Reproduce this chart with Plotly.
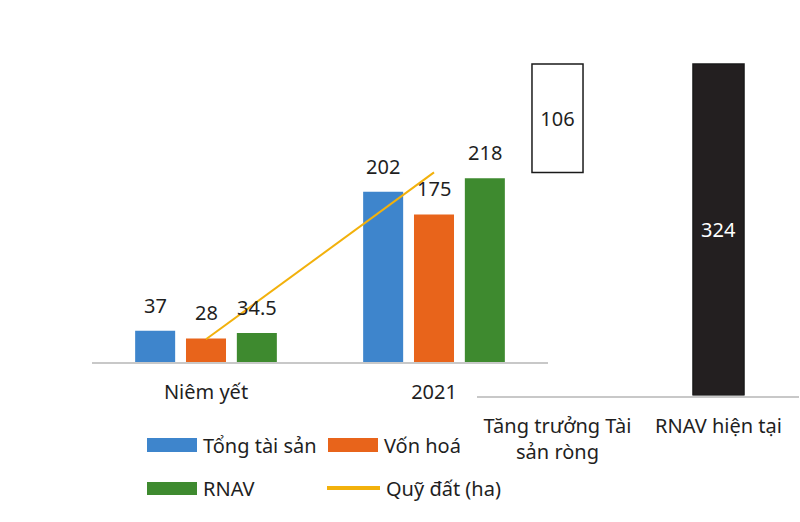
import plotly.graph_objects as go

# ---- data ----
categories = ["Niêm yết", "2021"]
tong_tai_san = [37, 202]
von_hoa = [28, 175]
rnav = [34.5, 218]
quy_dat = [27, 225]
rnav_labels = ["Tăng trưởng Tài<br>sản ròng", "RNAV hiện tại"]
rnav_values = [106, 324]
series_names = ["Tổng tài sản", "Vốn hoá", "RNAV"]
line_name = "Quỹ đất (ha)"

# ---- style ----
W, H = 800, 522
def px(x): return x / W
def py(y): return 1 - y / H

FONT = "Noto Sans"
TXT = "#1f1f1f"
FS = 20
colors = ["#3E85CC", "#E8641B", "#3E8A2F"]
LINE_C = "#F2B10C"
AXIS_C = "#c8c8c8"

fig = go.Figure()
series = [tong_tai_san, von_hoa, rnav]
for name, vals, c in zip(series_names, series, colors):
    fig.add_trace(go.Bar(x=categories, y=vals, name=name,
                         marker=dict(color=c, line_width=0),
                         xaxis="x", yaxis="y", showlegend=False))
fig.add_trace(go.Scatter(x=categories, y=quy_dat, name=line_name, mode="lines",
                         line=dict(color=LINE_C, width=2),
                         xaxis="x", yaxis="y", showlegend=False))

growth, current = rnav_values
bases = [current - growth, 0]
fig.add_trace(go.Bar(x=rnav_labels, y=rnav_values, base=bases, width=0.317,
                     xaxis="x2", yaxis="y2", showlegend=False,
                     marker=dict(color=["white", "#231F20"],
                                 line=dict(color=["#1a1a1a", "#1a1a1a"], width=1.5)),
                     text=[str(v) for v in rnav_values], textposition="inside",
                     insidetextanchor="middle", textangle=0,
                     constraintext="none",
                     textfont=dict(color=[TXT, "white"], size=FS, family=FONT)))

# value labels above left bars (x given as category index)
pitch = 50.85
annotations = []
for i, vals in enumerate(series):
    for ci, v in enumerate(vals):
        annotations.append(dict(x=ci, y=v, xref="x", yref="y", text=str(v),
                                showarrow=False, yanchor="bottom", yshift=10,
                                xshift=(i - 1) * pitch,
                                font=dict(size=FS, family=FONT, color=TXT)))

# custom legend
shapes = []
legend_items = [
    ("rect", colors[0], series_names[0], 147, 197, 438, 452),
    ("rect", colors[1], series_names[1], 328, 378, 438, 452),
    ("rect", colors[2], series_names[2], 147, 197, 482, 495),
    ("line", LINE_C, line_name, 327, 380, 488, 488),
]
for kind, c, label, x0, x1, y0, y1 in legend_items:
    if kind == "rect":
        shapes.append(dict(type="rect", xref="paper", yref="paper",
                           x0=px(x0), x1=px(x1), y0=py(y0), y1=py(y1),
                           fillcolor=c, line_width=0))
    else:
        shapes.append(dict(type="line", xref="paper", yref="paper",
                           x0=px(x0), x1=px(x1), y0=py(y0), y1=py(y1),
                           line=dict(color=c, width=4)))
    annotations.append(dict(x=px(x1 + 4), y=py((y0 + y1) / 2), xref="paper", yref="paper",
                            text=label, showarrow=False, xanchor="left", yanchor="middle",
                            font=dict(size=FS, family=FONT, color=TXT)))

fig.update_layout(
    width=W, height=H, margin=dict(l=0, r=0, t=0, b=0),
    paper_bgcolor="white", plot_bgcolor="rgba(0,0,0,0)",
    barmode="group", bargap=0.331, bargroupgap=0.213,
    font=dict(family=FONT, size=FS, color=TXT),
    showlegend=False,
    xaxis=dict(type="category", categoryorder="array", categoryarray=categories,
               range=[-0.5, len(categories) - 0.5],
               domain=[px(92), px(548)], anchor="y", showline=True,
               linecolor=AXIS_C, linewidth=2, showgrid=False, zeroline=False, ticks="",
               ticklabelstandoff=11, tickfont=dict(size=FS, family=FONT, color=TXT)),
    yaxis=dict(domain=[py(362), py(40)], range=[0, (362 - 40) / 0.843], visible=False),
    xaxis2=dict(type="category", range=[-0.5, len(rnav_labels) - 0.5],
                domain=[px(477), px(799)], anchor="y2", showline=True,
                linecolor=AXIS_C, linewidth=2, showgrid=False, zeroline=False, ticks="",
                ticklabelstandoff=11, tickfont=dict(size=FS, family=FONT, color=TXT)),
    yaxis2=dict(domain=[py(395.6), py(40)], range=[0, (395.6 - 40) / 1.0235], visible=False),
    annotations=annotations, shapes=shapes,
)

fig.write_html("out.html")
